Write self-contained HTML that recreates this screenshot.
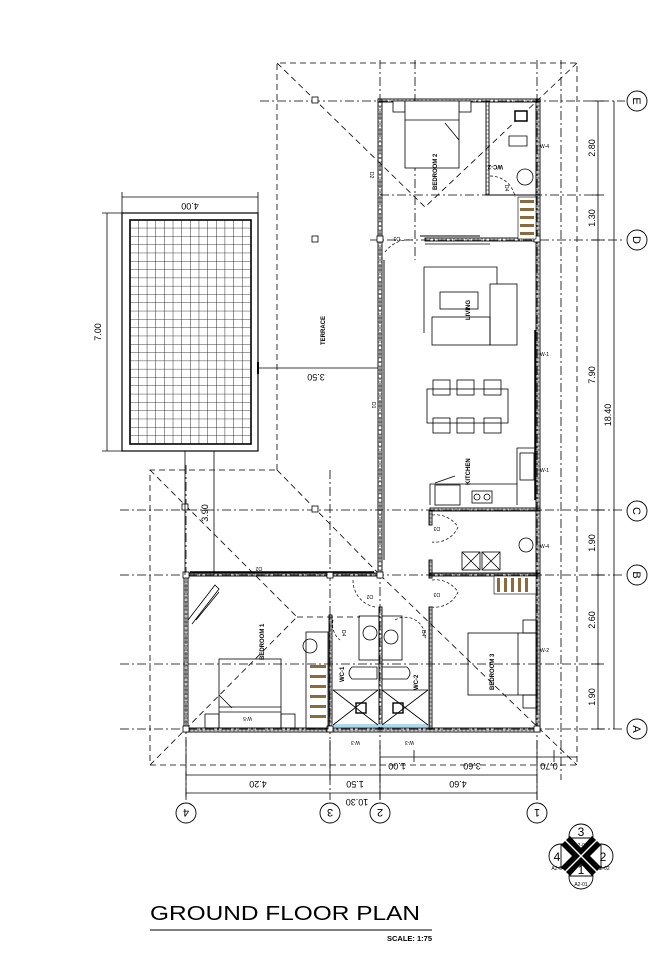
<!DOCTYPE html>
<html><head><meta charset="utf-8"><style>
html,body{margin:0;padding:0;background:#fff;}
svg{display:block;font-family:"Liberation Sans",sans-serif;}
</style></head><body>
<svg width="672" height="960" viewBox="0 0 672 960" xmlns="http://www.w3.org/2000/svg">
<rect width="672" height="960" fill="#fff"/>
<defs>
<pattern id="grid" x="130" y="220" width="8.65" height="8.3" patternUnits="userSpaceOnUse">
<path d="M8.65 0V8.3M0 8.3H8.65" stroke="#000" stroke-width="0.8" fill="none"/>
</pattern>
<pattern id="hatch" width="4" height="4" patternUnits="userSpaceOnUse">
<path d="M0 2H4M2 0V4" stroke="#000" stroke-width="0.5"/>
</pattern>
</defs>

<g stroke="#000" stroke-width="0.8" stroke-dasharray="9 3 2 3" fill="none">
<line x1="260" y1="101" x2="625" y2="101"/>
<line x1="380" y1="195" x2="600" y2="195"/>
<line x1="370" y1="240" x2="625" y2="240"/>
<line x1="120" y1="510" x2="625" y2="510"/>
<line x1="120" y1="575" x2="625" y2="575"/>
<line x1="120" y1="664" x2="600" y2="664"/>
<line x1="120" y1="729" x2="625" y2="729"/>
<line x1="186" y1="465" x2="186" y2="800"/>
<line x1="330" y1="470" x2="330" y2="800"/>
<line x1="380" y1="60" x2="380" y2="800"/>
<line x1="415" y1="60" x2="415" y2="260"/>
<line x1="537" y1="60" x2="537" y2="800"/>
<line x1="561" y1="60" x2="561" y2="780"/>
</g>

<g stroke="#000" stroke-width="0.8" stroke-dasharray="6 4" fill="none">
<polyline points="277,470 277,63 577,63 577,765 150,765 150,470 277,470"/>
<line x1="277" y1="63" x2="425" y2="207"/>
<line x1="577" y1="63" x2="425" y2="207"/>
<line x1="277" y1="470" x2="380" y2="575"/>
<line x1="150" y1="470" x2="297" y2="617"/>
<line x1="150" y1="765" x2="297" y2="617"/>
<line x1="297" y1="617" x2="360" y2="617"/>
<line x1="380" y1="575" x2="577" y2="765"/>
</g>

<rect x="122" y="213" width="136" height="238" fill="#fff" stroke="#000" stroke-width="1.2"/>
<rect x="130" y="220" width="121" height="224" fill="url(#grid)" stroke="#000" stroke-width="1.6"/>

<g fill="url(#hatch)" stroke="#000" stroke-width="0.9">
<rect x="378" y="99" width="4" height="476"/>
<rect x="536" y="99" width="4" height="633"/>
<rect x="378" y="99" width="162" height="3"/>
<rect x="184" y="573" width="196" height="3"/>
<rect x="184" y="728" width="356" height="4"/>
<rect x="184" y="573" width="4" height="159"/>
<rect x="486" y="101" width="3" height="94"/>
<rect x="425" y="238" width="115" height="3"/>
<rect x="430" y="508" width="110" height="3"/>
<rect x="430" y="573" width="110" height="3"/>
<rect x="429" y="510" width="3" height="15"/>
<rect x="429" y="560" width="3" height="18"/>
<rect x="429" y="607" width="3" height="122"/>
<rect x="379" y="607" width="3" height="122"/>
<rect x="329" y="615" width="3" height="114"/>
</g>
<line x1="487" y1="195" x2="540" y2="195" stroke="#000" stroke-width="1"/>
<line x1="384" y1="260" x2="384" y2="560" stroke="#888" stroke-width="2"/>
<line x1="535" y1="330" x2="535" y2="500" stroke="#000" stroke-width="1.5"/>
<rect x="332" y="724" width="96" height="3" fill="#aed8ef"/>

<g fill="#fff" stroke="#000" stroke-width="0.8">
<rect x="312" y="97" width="6" height="6"/><rect x="312" y="236" width="6" height="6"/>
<rect x="312" y="506" width="6" height="6"/><rect x="182" y="504" width="6" height="6"/>
<rect x="183" y="572" width="6" height="6"/><rect x="327" y="572" width="6" height="6"/>
<rect x="377" y="572" width="6" height="6"/><rect x="183" y="726" width="6" height="6"/>
<rect x="327" y="726" width="6" height="6"/><rect x="534" y="726" width="6" height="6"/>
<rect x="377" y="236" width="6" height="6"/><rect x="534" y="236" width="6" height="6"/>
</g>

<g fill="none" stroke="#000" stroke-width="0.7" stroke-dasharray="3 2">
<path d="M385 252 A30 30 0 0 1 413 240"/>
<path d="M490 176 A25 25 0 0 1 515 197"/>
<path d="M432 515 A27 27 0 0 1 458 527 A25 25 0 0 1 432 542"/>
<path d="M432 580 A27 27 0 0 1 458 592 A25 25 0 0 1 432 607"/>
<path d="M353 580 A27 27 0 0 0 375 607"/>
<path d="M333 620 A20 20 0 0 0 340 640"/>
<path d="M395 620 A20 20 0 0 1 425 640"/>
</g>
<line x1="420" y1="236" x2="480" y2="236" stroke="#000" stroke-width="1"/>
<line x1="425" y1="244" x2="490" y2="244" stroke="#000" stroke-width="0.8"/>
<line x1="190" y1="572" x2="374" y2="572" stroke="#000" stroke-width="1.5"/>

<g fill="#fff" stroke="#000" stroke-width="0.8">
<rect x="393" y="101" width="12" height="11"/><rect x="459" y="101" width="12" height="11"/>
<rect x="405" y="101" width="54" height="67"/>
<line x1="405" y1="120" x2="459" y2="120"/>
<line x1="445" y1="123" x2="459" y2="140"/>
<rect x="515" y="111" width="12" height="10" stroke-width="1.5"/>
<path d="M509 146 h18 v-10 h-18 z"/>
<ellipse cx="525" cy="177" rx="8" ry="8"/>
</g>
<rect x="518" y="197" width="18" height="42" fill="#fff" stroke="#000" stroke-width="0.6"/>
<g fill="#8b6b3d"><rect x="520" y="200" width="14" height="3"/><rect x="520" y="208" width="14" height="3"/><rect x="520" y="216" width="14" height="3"/><rect x="520" y="224" width="14" height="3"/><rect x="520" y="232" width="14" height="3"/></g>

<g fill="none" stroke="#000" stroke-width="0.8">
<path d="M424 333 V267 H497 V284"/>
<rect x="490" y="284" width="27" height="61"/>
<rect x="432" y="317" width="58" height="28"/>
<rect x="440" y="292" width="38" height="17"/>
<rect x="427" y="389" width="81" height="34"/>
<rect x="433" y="380" width="17" height="15"/><rect x="457" y="380" width="17" height="15"/><rect x="484" y="380" width="17" height="15"/>
<rect x="433" y="418" width="17" height="15"/><rect x="457" y="418" width="17" height="15"/><rect x="484" y="418" width="17" height="15"/>
<path d="M517 505 V448 H537"/>
<rect x="520" y="453" width="14" height="27"/>
<path d="M430 505 V484 H517"/>
<rect x="435" y="485" width="25" height="20"/>
<line x1="435" y1="483" x2="455" y2="476"/>
<rect x="472" y="491" width="20" height="12"/>
<circle cx="477" cy="497" r="3"/><circle cx="487" cy="497" r="3"/>
<rect x="462" y="552" width="18" height="18"/><path d="M462 552 l18 18 M480 552 l-18 18"/>
<rect x="482" y="552" width="18" height="18"/><path d="M482 552 l18 18 M500 552 l-18 18"/>
<circle cx="526" cy="545" r="7"/>
</g>
<rect x="494" y="576" width="42" height="18" fill="#fff" stroke="#000" stroke-width="0.6"/>
<g fill="#8b6b3d"><rect x="497" y="578" width="3" height="14"/><rect x="504" y="578" width="3" height="14"/><rect x="511" y="578" width="3" height="14"/><rect x="518" y="578" width="3" height="14"/><rect x="525" y="578" width="3" height="14"/></g>

<g fill="none" stroke="#000" stroke-width="0.8">
<rect x="468" y="633" width="69" height="62"/>
<line x1="518" y1="633" x2="518" y2="695"/>
<rect x="523" y="620" width="14" height="13"/><rect x="523" y="695" width="14" height="13"/>
</g>

<g fill="none" stroke="#000" stroke-width="0.8">
<rect x="359" y="616" width="20" height="44"/><circle cx="370" cy="633" r="7"/>
<rect x="382" y="616" width="20" height="44"/><circle cx="391" cy="637" r="7"/>
<path d="M352 667 h25 v12 h-25 q-6 -6 0 -12z"/>
<path d="M407 667 h-25 v12 h25 q6 -6 0 -12z"/>
<path d="M333 690 L378 725 M378 690 L333 725 M382 690 L428 725 M428 690 L382 725"/>
<line x1="333" y1="690" x2="378" y2="690"/><line x1="382" y1="690" x2="428" y2="690"/>
<rect x="356" y="703" width="10" height="10" stroke-width="1.4"/><rect x="393" y="703" width="10" height="10" stroke-width="1.4"/>
<rect x="306" y="632" width="22" height="97"/>
<circle cx="310" cy="646" r="7"/>
</g>
<g fill="#8b6b3d"><rect x="310" y="665" width="16" height="3"/><rect x="310" y="675" width="16" height="3"/><rect x="310" y="685" width="16" height="3"/><rect x="310" y="695" width="16" height="3"/><rect x="310" y="705" width="16" height="3"/><rect x="310" y="715" width="16" height="3"/></g>

<g fill="none" stroke="#000" stroke-width="0.8">
<rect x="219" y="659" width="62" height="69"/>
<line x1="219" y1="707" x2="281" y2="707"/><line x1="219" y1="712" x2="281" y2="712"/>
<line x1="219" y1="695" x2="232" y2="708"/>
<rect x="205" y="714" width="14" height="14"/><rect x="281" y="714" width="14" height="14"/>
<path d="M188 620 L215 585 L219 589 L192 624 M196 620 L219 592"/>
</g>

<g font-size="5" fill="#000">
<text x="540" y="148">W-4</text><text x="540" y="356">W-1</text><text x="540" y="472">W-1</text><text x="540" y="548">W-4</text><text x="540" y="652">W-2</text>
<text transform="translate(252,717) rotate(180)">W-5</text>
<text transform="translate(360,741) rotate(180)">W-3</text>
<text transform="translate(414,741) rotate(180)">W-3</text>
<text transform="translate(400,237) rotate(180)">D3</text>
<text transform="translate(440,527) rotate(180)">D3</text>
<text transform="translate(440,593) rotate(180)">D3</text>
<text transform="translate(262,567) rotate(180)">D2</text>
<text transform="translate(373,595) rotate(180)">D2</text>
<text transform="translate(505,185) rotate(90)">D4</text>
<text transform="translate(342,630) rotate(90)">D4</text>
<text transform="translate(422,630) rotate(90)">D4</text>
<text transform="translate(370,172) rotate(90)">D2</text>
<text transform="translate(372,402) rotate(90)">D1</text>
</g>
<g font-size="6" font-weight="bold" fill="#000">
<text transform="translate(437,190) rotate(-90)">BEDROOM 2</text>
<text transform="translate(470,320) rotate(-90)">LIVING</text>
<text transform="translate(470,485) rotate(-90)">KITCHEN</text>
<text transform="translate(325,345) rotate(-90)">TERRACE</text>
<text transform="translate(264,660) rotate(-90)">BEDROOM 1</text>
<text transform="translate(494,690) rotate(-90)">BEDROOM 3</text>
<text transform="translate(344,682) rotate(-90)">WC-1</text>
<text transform="translate(418,690) rotate(-90)">WC-2</text>
<text transform="translate(503,165) rotate(180)">WC-2</text>
</g>

<g stroke="#000" stroke-width="0.8" fill="none">
<line x1="122" y1="197" x2="258" y2="197"/><line x1="122" y1="192" x2="122" y2="213"/><line x1="258" y1="192" x2="258" y2="213"/>
<line x1="107" y1="213" x2="107" y2="451"/><line x1="102" y1="213" x2="122" y2="213"/><line x1="102" y1="451" x2="122" y2="451"/>
<line x1="258" y1="368" x2="378" y2="368"/><line x1="258" y1="362" x2="258" y2="374" stroke-width="2"/>
<line x1="185" y1="451" x2="185" y2="575"/><line x1="214" y1="451" x2="214" y2="575"/>
<line x1="598" y1="101" x2="598" y2="729"/><line x1="614" y1="101" x2="614" y2="729"/>
<line x1="380" y1="757" x2="577" y2="757"/>
<line x1="186" y1="775" x2="537" y2="775"/>
<line x1="186" y1="793" x2="537" y2="793"/>
<line x1="186" y1="740" x2="186" y2="800"/><line x1="537" y1="740" x2="537" y2="800"/>
<line x1="330" y1="740" x2="330" y2="780"/><line x1="380" y1="745" x2="380" y2="800"/>
<line x1="414" y1="750" x2="414" y2="762"/><line x1="554" y1="750" x2="554" y2="762"/>
</g>
<g stroke="#000" stroke-width="0.8">
<line x1="592" y1="101" x2="604" y2="101"/><line x1="592" y1="195" x2="604" y2="195"/><line x1="592" y1="240" x2="604" y2="240"/><line x1="592" y1="510" x2="604" y2="510"/><line x1="592" y1="575" x2="604" y2="575"/><line x1="592" y1="664" x2="604" y2="664"/><line x1="592" y1="729" x2="604" y2="729"/>
</g>
<g font-size="9" fill="#000" text-anchor="middle">
<text transform="translate(190,203) rotate(180)">4.00</text>
<text transform="translate(101,332) rotate(-90)">7.00</text>
<text transform="translate(316,374) rotate(180)">3.50</text>
<text transform="translate(208,513) rotate(-90)">3.90</text>
<text transform="translate(595,148) rotate(-90)">2.80</text>
<text transform="translate(595,218) rotate(-90)">1.30</text>
<text transform="translate(595,375) rotate(-90)">7.90</text>
<text transform="translate(611,415) rotate(-90)">18.40</text>
<text transform="translate(595,543) rotate(-90)">1.90</text>
<text transform="translate(595,620) rotate(-90)">2.60</text>
<text transform="translate(595,697) rotate(-90)">1.90</text>
<text transform="translate(397,763) rotate(180)">1.00</text>
<text transform="translate(472,763) rotate(180)">3.60</text>
<text transform="translate(549,763) rotate(180)">0.70</text>
<text transform="translate(258,781) rotate(180)">4.20</text>
<text transform="translate(355,781) rotate(180)">1.50</text>
<text transform="translate(458,781) rotate(180)">4.60</text>
<text transform="translate(357,799) rotate(180)">10.30</text>
</g>

<g fill="#fff" stroke="#000" stroke-width="0.9">
<circle cx="637" cy="101" r="10"/><circle cx="637" cy="240" r="10"/><circle cx="637" cy="511" r="10"/><circle cx="637" cy="575" r="10"/><circle cx="637" cy="729" r="10"/>
<circle cx="186" cy="813" r="10"/><circle cx="330" cy="813" r="10"/><circle cx="380" cy="813" r="10"/><circle cx="537" cy="813" r="10"/>
</g>
<g font-size="11" fill="#000" text-anchor="middle">
<text transform="translate(633,101) rotate(90)">E</text>
<text transform="translate(633,240) rotate(90)">D</text>
<text transform="translate(633,511) rotate(90)">C</text>
<text transform="translate(633,575) rotate(90)">B</text>
<text transform="translate(633,729) rotate(90)">A</text>
<text transform="translate(186,809) rotate(180)">4</text>
<text transform="translate(330,809) rotate(180)">3</text>
<text transform="translate(380,809) rotate(180)">2</text>
<text transform="translate(537,809) rotate(180)">1</text>
</g>

<g stroke="#000" fill="#fff" stroke-width="0.9">
<circle cx="581" cy="836" r="12"/><circle cx="601" cy="856" r="12"/><circle cx="581" cy="877" r="12"/><circle cx="561" cy="856" r="12"/>
<line x1="569" y1="838" x2="593" y2="838"/><line x1="601" y1="844" x2="601" y2="868"/><line x1="569" y1="876" x2="593" y2="876"/><line x1="561" y1="844" x2="561" y2="868"/>
</g>
<path d="M566 840 L581 855 L596 840 L592 836 L581 848 L570 836Z M566 872 L581 857 L596 872 L592 876 L581 864 L570 876Z M565 841 L580 856 L565 871 L561 867 L572 856 L561 845Z M597 841 L582 856 L597 871 L601 867 L590 856 L601 845Z" fill="#000"/>
<g fill="#000" text-anchor="middle">
<text x="581" y="836" font-size="12">3</text>
<text x="603" y="861" font-size="12">2</text>
<text x="581" y="874" font-size="12">1</text>
<text x="557" y="861" font-size="12">4</text>
<text x="581" y="847" font-size="5">A2-03</text>
<text x="603" y="870" font-size="5">A2-02</text>
<text x="581" y="886" font-size="5">A2-01</text>
<text x="558" y="870" font-size="5">A2-04</text>
</g>

<text x="150" y="920" font-size="20" fill="#000" textLength="270" lengthAdjust="spacingAndGlyphs">GROUND FLOOR PLAN</text>
<line x1="150" y1="930" x2="432" y2="930" stroke="#000" stroke-width="1"/>
<text x="432" y="941" font-size="7.5" font-weight="bold" fill="#000" text-anchor="end">SCALE: 1:75</text>
</svg>
</body></html>
